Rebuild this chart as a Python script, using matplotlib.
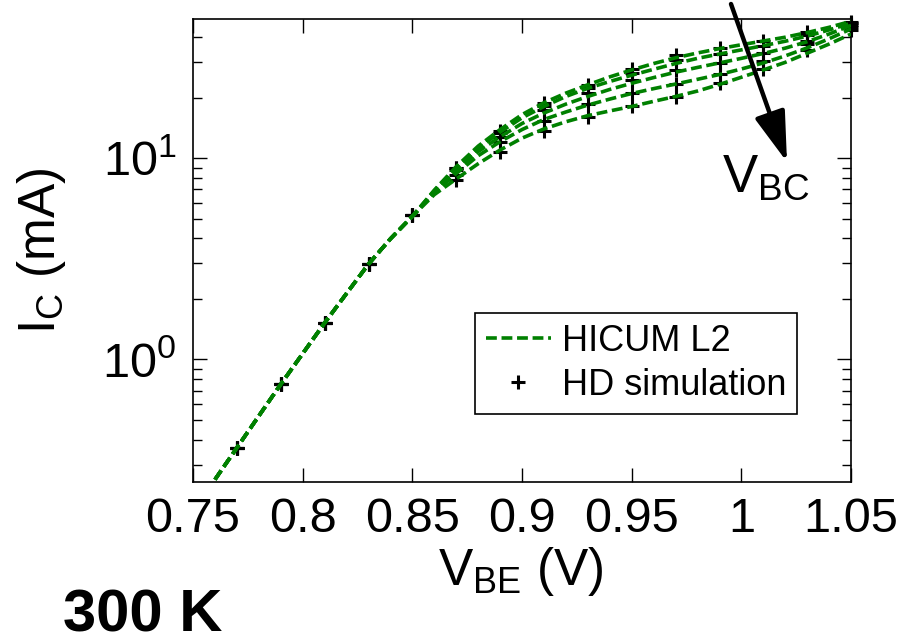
import numpy             as np
import matplotlib
matplotlib.use('Agg')
import matplotlib.pyplot as plt

plt.rcParams['font.family']      = ['Liberation Sans', 'DejaVu Sans']
plt.rcParams['mathtext.fontset'] = 'custom'
plt.rcParams['mathtext.rm']      = 'Liberation Sans'
plt.rcParams['mathtext.it']      = 'Liberation Sans:italic'
plt.rcParams['mathtext.bf']      = 'Liberation Sans:bold'

green     = (0.0, 0.5, 0.0)
ticksize  = 35
labelsize = 37

# HD simulation points (mA); below 0.87 V all V_BC give the same current
vbe_hd   = [0.77, 0.79, 0.81, 0.83, 0.85, 0.87, 0.89, 0.91, 0.93, 0.95,
            0.97, 0.99, 1.01, 1.03, 1.05]
ic_hd_lo = [0.364, 0.753, 1.52, 2.98, 5.2]
ic_hd_hi = [
    [9.0, 13.7, 18.8, 23.2, 27.8, 32.5, 35.5, 38.3, 42.5, 47.8],
    [8.9, 13.4, 18.2, 22.4, 26.5, 30.9, 33.0, 36.3, 40.8, 47.0],
    [8.7, 12.8, 17.3, 21.0, 24.5, 27.4, 29.7, 33.4, 38.5, 46.0],
    [8.3, 12.0, 15.4, 18.7, 21.2, 23.5, 26.2, 30.3, 37.1, 45.0],
    [7.8, 10.8, 13.7, 16.0, 18.1, 20.1, 23.8, 27.7, 34.6, 43.5],
]

# HICUM L2 model curves (mA)
vbe_model = [0.76, 0.77, 0.78, 0.79, 0.80, 0.81, 0.82, 0.83, 0.84, 0.85,
             0.86, 0.87, 0.88, 0.89, 0.90, 0.91, 0.92, 0.93, 0.94, 0.95,
             0.96, 0.97, 0.98, 0.99, 1.00, 1.01, 1.02, 1.03, 1.04, 1.05]
ic_model_lo = [0.253, 0.364, 0.524, 0.753, 1.07, 1.52, 2.13, 2.98, 3.98, 5.15]
ic_model_hi = [
    [6.95, 9.1, 11.5, 13.9, 16.5, 18.9, 21.1, 23.2, 25.4, 27.5,
     29.6, 31.6, 33.4, 35.1, 36.7, 38.3, 40.0, 42.2, 44.8, 48.0],
    [6.9, 8.95, 11.2, 13.5, 15.9, 18.1, 20.3, 22.3, 24.1, 25.9,
     27.7, 29.6, 31.4, 33.0, 34.6, 36.3, 38.2, 40.5, 43.5, 47.0],
    [6.85, 8.7, 10.8, 12.8, 14.9, 16.8, 18.6, 20.3, 22.0, 23.6,
     25.2, 26.8, 28.3, 29.8, 31.4, 33.2, 35.3, 38.0, 41.5, 45.8],
    [6.75, 8.4, 10.3, 12.1, 13.9, 15.6, 17.0, 18.4, 19.7, 21.0,
     22.2, 23.4, 24.7, 26.1, 27.8, 29.8, 32.3, 35.4, 39.3, 44.0],
    [6.6, 7.9, 9.4, 11.0, 12.6, 14.0, 15.2, 16.3, 17.2, 18.1,
     19.2, 20.3, 21.6, 23.3, 25.3, 27.5, 30.0, 33.3, 37.0, 41.5],
]

xticks      = [0.75, 0.8, 0.85, 0.9, 0.95, 1.0, 1.05]
xticklabels = ['0.75', '0.8', '0.85', '0.9', '0.95', '1', '1.05']


fig = plt.figure(figsize=(9.14, 6.44), dpi=100)
ax  = fig.add_axes([0.2112, 0.2516, 0.72, 0.719])

for hi in ic_hd_hi:
    mk, = ax.plot(vbe_hd, ic_hd_lo + hi, '+', color='k', clip_on=False,
                  markersize=10, markeredgewidth=2.2, zorder=2)
for hi in ic_model_hi:
    ln, = ax.plot(vbe_model, ic_model_lo + hi, color=green, linewidth=2.6,
                  linestyle=(0, (3.0, 1.3)), zorder=3)

ax.set_yscale('log')
ax.set_xlim(0.75, 1.05)
ax.set_ylim(0.246, 49.3)
ax.set_xticks(xticks)
ax.set_xticklabels(xticklabels)
ax.set_yticks([1, 10])

for side in ax.spines.values():
    side.set_linewidth(1.2)
ax.tick_params(which='both', direction='in', top=True, right=True, width=1.0)
ax.tick_params(which='major', length=10, labelsize=ticksize)
ax.tick_params(which='minor', length=6.5)
ax.tick_params(axis='x', pad=11)
ax.tick_params(axis='y', pad=12)

fig.text(521 / 914, 1 - 585 / 644, r'$\mathregular{V_{BE}}$ (V)',
         fontsize=labelsize, ha='center', va='baseline')
fig.text(55 / 914, 1 - 251 / 644, r'$\mathregular{I_{C}}$ (mA)',
         fontsize=labelsize, ha='center', va='baseline',
         rotation=90, rotation_mode='anchor')

leg = ax.legend([ln, mk], ['HICUM L2', 'HD simulation'], loc='upper left',
                bbox_to_anchor=(475 / 914, 1 - 313 / 644),
                bbox_transform=fig.transFigure, borderaxespad=0,
                fontsize=26, fancybox=False, framealpha=1, edgecolor='k',
                handlelength=1.8, handletextpad=0.3, borderpad=0.3,
                labelspacing=0.25)
leg.get_frame().set_linewidth(1.2)

# V_BC direction arrow and label
ax.annotate('', xy=(787 / 914, 1 - 162 / 644), xytext=(731 / 914, 1 - 4 / 644),
            xycoords='figure fraction', textcoords='figure fraction',
            annotation_clip=False,
            arrowprops=dict(arrowstyle='-|>,head_length=1.55,head_width=0.48',
                            mutation_scale=20, lw=3.2, color='k',
                            shrinkA=0, shrinkB=0))
fig.text(722 / 914, 1 - 192 / 644, r'$\mathregular{V_{BC}}$',
         fontsize=38, ha='left', va='baseline')

fig.text(63 / 914, 1 - 631 / 644, '300 K', fontsize=43, fontweight='bold',
         ha='left', va='baseline')

plt.savefig('out.png', dpi=100)
